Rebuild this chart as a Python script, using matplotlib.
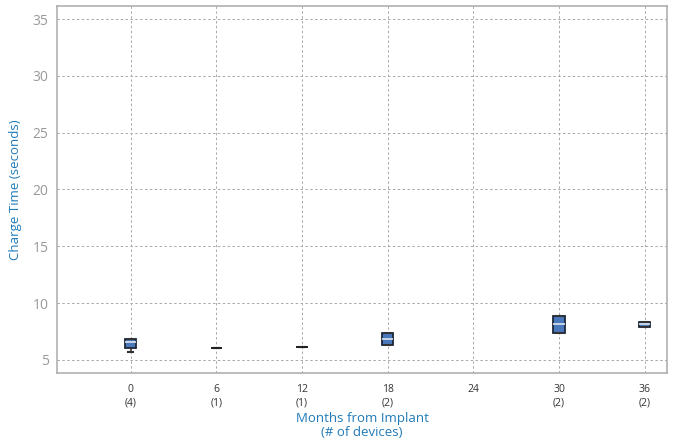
import matplotlib
matplotlib.use("Agg")
import matplotlib.pyplot as plt

months = ["0", "6", "12", "18", "24", "30", "36"]
devices = ["(4)", "(1)", "(1)", "(2)", "", "(2)", "(2)"]

# box stats per month (None = no data)
q1 = [6.06, 6.03, 6.17, 6.32, None, 7.35, 7.88]
med = [6.6, 6.03, 6.17, 6.83, None, 8.15, 8.15]
q3 = [6.85, 6.03, 6.17, 7.35, None, 8.88, 8.35]
wlo = [5.7, 6.03, 6.17, 6.32, None, 7.35, 7.88]
whi = [6.85, 6.03, 6.17, 7.35, None, 8.88, 8.35]

plt.rcParams['font.family'] = ['Open Sans', 'DejaVu Sans']

fig = plt.figure(figsize=(6.73, 4.48), dpi=100)
ax = fig.add_axes([57/673, 1 - 373/448, 610/673, 367/448])

stats = []
positions = []
for i in range(len(months)):
    if med[i] is None:
        continue
    stats.append(dict(med=med[i], q1=q1[i], q3=q3[i], whislo=wlo[i], whishi=whi[i], fliers=[]))
    positions.append(i)

parts = ax.bxp(stats, positions=positions, widths=0.13, patch_artist=True, showfliers=False,
               boxprops=dict(facecolor="#4a78bd", edgecolor="#1c2838", linewidth=1.3),
               medianprops=dict(color="#dfe6ef", linewidth=1.2),
               whiskerprops=dict(color="#333333", linewidth=1.2),
               capprops=dict(color="#333333", linewidth=1.5),
               manage_ticks=False, zorder=3)
# single-device months: just a dark dash
for st, line in zip(stats, parts["medians"]):
    if st["q1"] == st["q3"]:
        line.set_color("#222222")
        line.set_linewidth(1.4)

ax.set_xlim(-0.86, 6.26)
ax.set_ylim(3.85, 36.15)
ax.set_yticks([5, 10, 15, 20, 25, 30, 35])
ax.set_xticks(range(len(months)))
ax.set_xticklabels([m + "\n" + d for m, d in zip(months, devices)], fontsize=7.5,
                   color="#333333", linespacing=1.35)
ax.tick_params(axis="y", labelsize=10, labelcolor="#999999", length=0, pad=6)
ax.tick_params(axis="x", length=0, pad=8)

ax.grid(True, linestyle=(0, (2.5, 2.5)), color="#a8a8a8", linewidth=0.7)
ax.set_axisbelow(True)
for s in ax.spines.values():
    s.set_color("#aaaaaa")
    s.set_linewidth(1.1)

ax.set_ylabel("Charge Time (seconds)", color="#1f7ab8", fontsize=9.5, labelpad=8)
ax.set_xlabel("Months from Implant\n(# of devices)", color="#1f7ab8", fontsize=9.5,
              labelpad=2, linespacing=1.15)

fig.savefig("out.png", dpi=100)
